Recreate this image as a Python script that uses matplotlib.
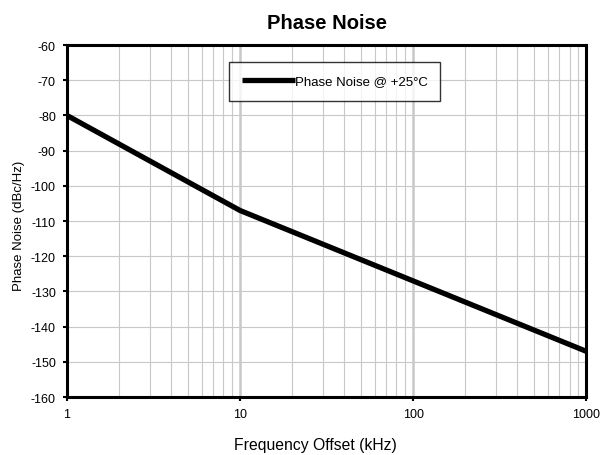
import matplotlib
matplotlib.use('Agg')
import matplotlib.pyplot as plt
from matplotlib.ticker import FixedLocator, NullFormatter

plt.rcParams['font.family'] = ['Liberation Sans', 'DejaVu Sans']
plt.rcParams['axes.unicode_minus'] = False

# data
freq_khz = [1, 10, 100, 1000]
phase_noise = [-80, -107, -127, -147]
series_label = 'Phase Noise @ +25°C'
x_ticks = [1, 10, 100, 1000]
x_tick_labels = ['1', '10', '100', '1000']
y_ticks = list(range(-160, -50, 10))

fig = plt.figure(figsize=(6.01, 4.56), dpi=100)
ax = fig.add_axes([0.1115, 0.127, 0.864, 0.772])

ax.set_xscale('log')
ax.set_xlim(1, 1000)
ax.set_ylim(-160, -60)

# grid: minor (2..9) light, decades slightly heavier
minor = [m * 10 ** d for d in range(3) for m in range(2, 10)]
ax.xaxis.set_minor_locator(FixedLocator(minor))
ax.xaxis.set_minor_formatter(NullFormatter())
ax.grid(which='minor', axis='x', color='#c8c8c8', lw=0.8)
ax.grid(which='major', axis='x', color='#c8c8c8', lw=1.8)
ax.grid(which='major', axis='y', color='#c8c8c8', lw=0.8)
ax.tick_params(which='minor', length=0)

ax.plot(freq_khz, phase_noise, color='black', lw=3.8,
        solid_capstyle='butt', label=series_label, zorder=3)

ax.set_xticks(x_ticks)
ax.set_xticklabels(x_tick_labels)
ax.set_yticks(y_ticks)
ax.tick_params(which='major', labelsize=9, direction='out', length=3,
               width=1.5, pad=5)

for s in ax.spines.values():
    s.set_linewidth(2.2)

ax.set_xlabel('Frequency Offset (kHz)', fontsize=11.3)
ax.xaxis.set_label_coords(0.479, -0.114)
ax.set_ylabel('Phase Noise (dBc/Hz)', fontsize=9.5)
ax.yaxis.set_label_coords(-0.08, 0.489)
ax.set_title('Phase Noise', fontsize=14.5, fontweight='bold', pad=12)

leg = ax.legend(loc='upper left', bbox_to_anchor=(0.312, 0.832, 0.407, 0.12),
                mode='expand', fontsize=9.5, frameon=True, fancybox=False,
                handlelength=4.0, handletextpad=0.0, borderpad=1.0,
                borderaxespad=0)
leg.get_frame().set_edgecolor('black')
leg.get_frame().set_linewidth(1.0)

fig.savefig('out.png', dpi=100)
